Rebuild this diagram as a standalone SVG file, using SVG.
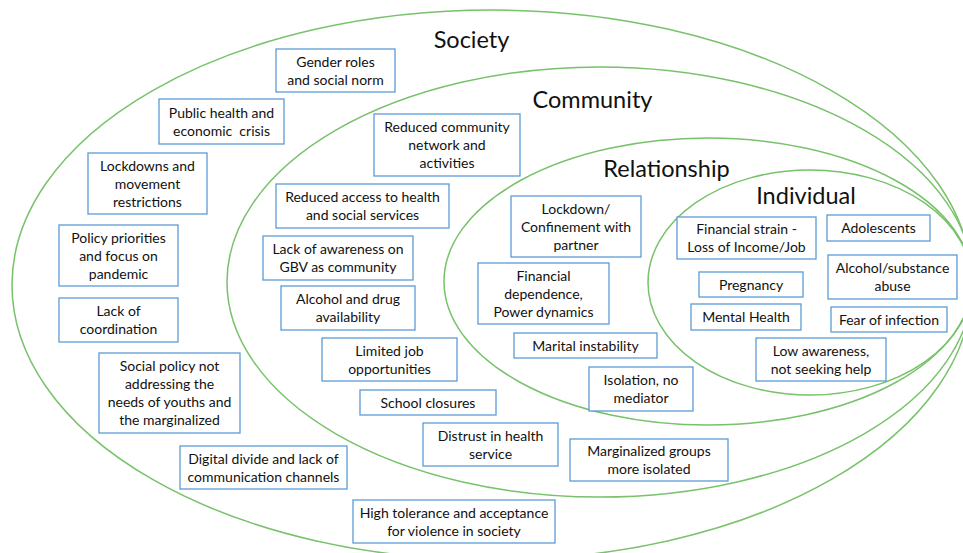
<svg xmlns="http://www.w3.org/2000/svg" width="963" height="553" viewBox="0 0 963 553">
<style>
.ring{fill:none;stroke:#77c26a;stroke-width:1.5}
.box{fill:#fff;stroke:#5b9bd5;stroke-width:1.3}
.t{font-family:Lato,"Liberation Sans",sans-serif;font-size:14px;fill:#111;text-anchor:middle}
.h{font-family:Lato,"Liberation Sans",sans-serif;font-size:23.5px;fill:#111;text-anchor:middle}
</style>
<rect width="963" height="553" fill="#fff"/>
<g id="rings">
<ellipse id="society" class="ring" cx="492" cy="285" rx="480" ry="275"/>
<ellipse id="community" class="ring" cx="600" cy="282" rx="373" ry="215"/>
<ellipse id="relationship" class="ring" cx="708" cy="281.5" rx="264" ry="143.5"/>
<ellipse id="individual" class="ring" cx="810" cy="282.5" rx="162" ry="112.5"/>
</g>
<g id="titles">
<text class="h" x="471.5" y="48">Society</text>
<text class="h" x="592.5" y="108">Community</text>
<text class="h" x="666.5" y="177">Relationship</text>
<text class="h" x="806" y="204">Individual</text>
</g>
<g id="connectors"></g>
<g transform="translate(0,-1)">
<g id="n1"><rect class="box" x="276" y="50" width="119" height="43"/><text class="t" x="335.5" y="67.5">Gender roles</text><text class="t" x="335.5" y="85.5">and social norm</text></g>
<g id="n2"><rect class="box" x="159" y="100" width="125" height="45"/><text class="t" x="221.5" y="118.5">Public health and</text><text class="t" x="221.5" y="136.5" xml:space="preserve">economic  crisis</text></g>
<g id="n3"><rect class="box" x="88" y="154" width="119" height="61"/><text class="t" x="147.5" y="171.5">Lockdowns and</text><text class="t" x="147.5" y="189.5">movement</text><text class="t" x="147.5" y="207.5">restrictions</text></g>
<g id="n4"><rect class="box" x="59" y="226" width="119" height="61"/><text class="t" x="118.5" y="243.5">Policy priorities</text><text class="t" x="118.5" y="261.5">and focus on</text><text class="t" x="118.5" y="279.5">pandemic</text></g>
<g id="n5"><rect class="box" x="59" y="299" width="119" height="44"/><text class="t" x="118.5" y="317">Lack of</text><text class="t" x="118.5" y="335">coordination</text></g>
<g id="n6"><rect class="box" x="99" y="354" width="141" height="80"/><text class="t" x="169.5" y="372">Social policy not</text><text class="t" x="169.5" y="390">addressing the</text><text class="t" x="169.5" y="408">needs of youths and</text><text class="t" x="169.5" y="426">the marginalized</text></g>
<g id="n7"><rect class="box" x="180" y="447" width="167" height="43"/><text class="t" x="263.5" y="464.5">Digital divide and lack of</text><text class="t" x="263.5" y="482.5">communication channels</text></g>
<g id="n8"><rect class="box" x="353" y="501" width="202" height="43"/><text class="t" x="454" y="518.5">High tolerance and acceptance</text><text class="t" x="454" y="536.5">for violence in society</text></g>
<g id="n9"><rect class="box" x="374" y="115" width="146" height="62"/><text class="t" x="447" y="133">Reduced community</text><text class="t" x="447" y="151">network and</text><text class="t" x="447" y="169">activities</text></g>
<g id="n10"><rect class="box" x="276" y="185" width="173" height="44"/><text class="t" x="362.5" y="203">Reduced access to health</text><text class="t" x="362.5" y="221">and social services</text></g>
<g id="n11"><rect class="box" x="263" y="237" width="150" height="44"/><text class="t" x="338" y="255">Lack of awareness on</text><text class="t" x="338" y="273">GBV as community</text></g>
<g id="n12"><rect class="box" x="281" y="287" width="134" height="44"/><text class="t" x="348" y="305">Alcohol and drug</text><text class="t" x="348" y="323">availability</text></g>
<g id="n13"><rect class="box" x="322" y="339" width="135" height="43"/><text class="t" x="389.5" y="356.5">Limited job</text><text class="t" x="389.5" y="374.5">opportunities</text></g>
<g id="n14"><rect class="box" x="360" y="391" width="136" height="25"/><text class="t" x="428" y="408.5">School closures</text></g>
<g id="n15"><rect class="box" x="423" y="424" width="135" height="43"/><text class="t" x="490.5" y="441.5">Distrust in health</text><text class="t" x="490.5" y="459.5">service</text></g>
<g id="n16"><rect class="box" x="570" y="440" width="158" height="42"/><text class="t" x="649" y="457">Marginalized groups</text><text class="t" x="649" y="475">more isolated</text></g>
<g id="n17"><rect class="box" x="511" y="197" width="130" height="61"/><text class="t" x="576" y="214.5">Lockdown/</text><text class="t" x="576" y="232.5">Confinement with</text><text class="t" x="576" y="250.5">partner</text></g>
<g id="n18"><rect class="box" x="478" y="264" width="131" height="61"/><text class="t" x="543.5" y="281.5">Financial</text><text class="t" x="543.5" y="299.5">dependence,</text><text class="t" x="543.5" y="317.5">Power dynamics</text></g>
<g id="n19"><rect class="box" x="514" y="334" width="143" height="25"/><text class="t" x="585.5" y="351.5">Marital instability</text></g>
<g id="n20"><rect class="box" x="589" y="368" width="104" height="44"/><text class="t" x="641" y="386">Isolation, no</text><text class="t" x="641" y="404">mediator</text></g>
<g id="n21"><rect class="box" x="677" y="218" width="139" height="42"/><text class="t" x="746.5" y="235">Financial strain -</text><text class="t" x="746.5" y="253">Loss of Income/Job</text></g>
<g id="n22"><rect class="box" x="827" y="216" width="103" height="26"/><text class="t" x="878.5" y="234">Adolescents</text></g>
<g id="n23"><rect class="box" x="828" y="256" width="129" height="44"/><text class="t" x="892.5" y="274">Alcohol/substance</text><text class="t" x="892.5" y="292">abuse</text></g>
<g id="n24"><rect class="box" x="699" y="273" width="104" height="25"/><text class="t" x="751" y="290.5">Pregnancy</text></g>
<g id="n25"><rect class="box" x="691" y="305" width="110" height="26"/><text class="t" x="746" y="323">Mental Health</text></g>
<g id="n26"><rect class="box" x="831" y="308" width="116" height="25"/><text class="t" x="889" y="325.5">Fear of infection</text></g>
<g id="n27"><rect class="box" x="756" y="339" width="130" height="43"/><text class="t" x="821" y="356.5">Low awareness,</text><text class="t" x="821" y="374.5">not seeking help</text></g>
</g>
</svg>
